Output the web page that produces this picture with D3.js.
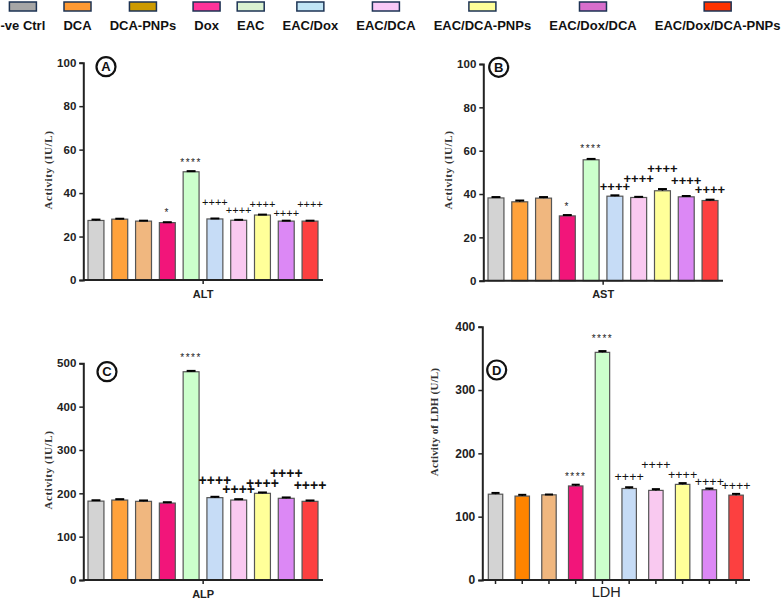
<!DOCTYPE html>
<html lang="en">
<head>
    <meta charset="UTF-8">
    <title>Serum enzymes</title>
    <script src="https://cdn.jsdelivr.net/npm/d3@7"></script>
    <style>
        body { margin: 0; background: #fff; }
        svg { display: block; font-family: "Liberation Sans", Arial, sans-serif; }
    </style>
</head>
<body>
    <svg></svg>
    <script>
        const groups = ["-ve Ctrl", "DCA", "DCA-PNPs", "Dox", "EAC", "EAC/Dox", "EAC/DCA", "EAC/DCA-PNPs", "EAC/Dox/DCA", "EAC/Dox/DCA-PNPs"];
        const legendColors = ["#a6a6a6", "#ff9a33", "#cc9a00", "#ff3399", "#daf2d0", "#c1e5f5", "#f9c9f7", "#ffff99", "#d86ecc", "#ff3300"];
        const barColors = ["#d3d3d3", "#ffa23c", "#f0b77f", "#f2157a", "#ccffcc", "#c6dcf6", "#f9c9f0", "#ffff99", "#dc88f5", "#fc4040"];

        const altValues = [27.4, 28.0, 27.1, 26.4, 49.8, 28.1, 27.5, 29.9, 27.1, 27.1];
        const altErr = [0.4, 0.2, 0.2, 0.2, 0.3, 0.2, 0.2, 0.2, 0.2, 0.2];
        const altMarks = ["", "", "", "*", "****", "++++", "++++", "++++", "++++", "++++"];
        const altMarkAt = [0, 0, 0, 31.9, 55.3, 35.6, 32.3, 35.0, 30.9, 34.7];

        const astValues = [38.2, 36.4, 38.1, 29.9, 55.8, 39.0, 38.4, 41.5, 38.7, 37.0];
        const astErr = [0.4, 0.6, 0.5, 0.4, 0.4, 0.4, 0.3, 0.8, 0.4, 0.4];
        const astMarks = ["", "", "", "*", "****", "++++", "++++", "++++", "++++", "++++"];
        const astMarkAt = [0, 0, 0, 35.4, 61.8, 43.4, 47.1, 51.7, 46.1, 41.9];

        const alpValues = [182, 184.5, 181.5, 177.5, 480.5, 190, 184.5, 200, 188.5, 181.5];
        const alpErr = [2, 2, 2, 2, 2, 2, 2, 2, 2, 2];
        const alpMarks = ["", "", "", "", "****", "++++", "++++", "++++", "++++", "++++"];
        const alpMarkAt = [0, 0, 0, 0, 519, 230.8, 209.3, 223.2, 246.2, 217.6];

        const ldhValues = [135.5, 132.5, 134.5, 148.5, 359.5, 144.5, 141.5, 151, 142.5, 134];
        const ldhErr = [2, 2, 0.5, 2, 2, 2, 2, 2, 2, 2];
        const ldhMarks = ["", "", "", "****", "****", "++++", "++++", "++++", "++++", "++++"];
        const ldhMarkAt = [0, 0, 0, 167.4, 384.2, 163.1, 181.6, 165.8, 155.2, 148.4];

        const W = 784, H = 601;
        const svg = d3.select("svg").attr("width", W).attr("height", H);
        svg.append("rect").attr("width", W).attr("height", H).attr("fill", "#fff");

        // legend strip across the top, labels spread to fill the width
        const leg = svg.append("g");
        const labels = leg.selectAll("text").data(groups).enter().append("text")
            .attr("y", 29.5)
            .attr("text-anchor", "middle")
            .style("font-size", "13px")
            .style("font-weight", "bold")
            .attr("fill", "#111")
            .text(d => d);
        const widths = labels.nodes().map(n => n.getComputedTextLength());
        const gap = (780 - d3.sum(widths)) / (groups.length - 1);
        let cursor = 0.5;
        const centers = widths.map(w => { const c = cursor + w / 2; cursor += w + gap; return c; });
        labels.attr("x", (d, i) => centers[i]);
        leg.selectAll("rect").data(groups).enter().append("rect")
            .attr("x", (d, i) => centers[i] - 13.5)
            .attr("y", 2)
            .attr("width", 27)
            .attr("height", 9)
            .attr("fill", (d, i) => legendColors[i])
            .attr("stroke", "#1d3354")
            .attr("stroke-width", 1.5);

        const panels = [
            { tag: "A", values: altValues, err: altErr, marks: altMarks, markAt: altMarkAt, yMax: 100, step: 20,
              x0: 83.3, x1: 323, bars: [88, 318], pad: 0.33, top: 62.7, bottom: 280,
              ylab: "Activity  (IU/L)", ylabX: 52, ylabY: 170, xlab: "ALT", xlabY: 297.5, xlabSize: 11, xlabBold: true,
              badge: [106, 66.7], plus: { size: 11, weight: "normal" }, allTicks: false, dca: barColors[1] },
            { tag: "B", values: astValues, err: astErr, marks: astMarks, markAt: astMarkAt, yMax: 100, step: 20,
              x0: 483.3, x1: 723, bars: [488, 718], pad: 0.33, top: 64, bottom: 280.7,
              ylab: "Activity  (IU/L)", ylabX: 452, ylabY: 170, xlab: "AST", xlabY: 297.5, xlabSize: 11, xlabBold: true,
              badge: [498.7, 67.3], plus: { size: 13, weight: "bold" }, allTicks: false, dca: barColors[1] },
            { tag: "C", values: alpValues, err: alpErr, marks: alpMarks, markAt: alpMarkAt, yMax: 500, step: 100,
              x0: 83.3, x1: 323, bars: [88, 318], pad: 0.33, top: 363.3, bottom: 580,
              ylab: "Activity  (IU/L)", ylabX: 52, ylabY: 470, xlab: "ALP", xlabY: 597.5, xlabSize: 11, xlabBold: true,
              badge: [107, 371.7], plus: { size: 14, weight: "bold" }, allTicks: false, dca: barColors[1] },
            { tag: "D", values: ldhValues, err: ldhErr, marks: ldhMarks, markAt: ldhMarkAt, yMax: 400, step: 100,
              x0: 482.3, x1: 750, bars: [488.3, 743.3], pad: 0.46, top: 326.7, bottom: 580,
              ylab: "Activity of LDH  (U/L)", ylabX: 438, ylabY: 422, xlab: "LDH", xlabY: 596.5, xlabSize: 14.5, xlabBold: false,
              badge: [496.7, 370], plus: { size: 12.5, weight: "normal" }, allTicks: true, dca: "#ff8400" }
        ];

        panels.forEach(p => {
            const g = svg.append("g");
            const x = d3.scaleBand().domain(groups).range(p.bars).paddingInner(p.pad).paddingOuter(0);
            const y = d3.scaleLinear().domain([0, p.yMax]).range([p.bottom, p.top]);
            const colors = barColors.map((c, i) => i === 1 ? p.dca : c);

            // bars
            g.selectAll("rect.bar").data(groups).enter().append("rect")
                .attr("class", "bar")
                .attr("x", d => x(d))
                .attr("width", x.bandwidth())
                .attr("y", (d, i) => y(p.values[i]))
                .attr("height", (d, i) => p.bottom - y(p.values[i]))
                .attr("fill", (d, i) => colors[i])
                .attr("stroke", "#555")
                .attr("stroke-width", 1.2);

            // error bars (upper half + cap)
            const eb = g.selectAll("g.err").data(groups).enter().append("g").attr("class", "err");
            eb.append("line")
                .attr("x1", d => x(d) + x.bandwidth() / 2)
                .attr("x2", d => x(d) + x.bandwidth() / 2)
                .attr("y1", (d, i) => y(p.values[i]))
                .attr("y2", (d, i) => y(p.values[i] + p.err[i]))
                .attr("stroke", "#000").attr("stroke-width", 1.5);
            eb.append("line")
                .attr("x1", d => x(d) + x.bandwidth() * 0.22)
                .attr("x2", d => x(d) + x.bandwidth() * 0.78)
                .attr("y1", (d, i) => y(p.values[i] + p.err[i]))
                .attr("y2", (d, i) => y(p.values[i] + p.err[i]))
                .attr("stroke", "#000").attr("stroke-width", 2);

            // y axis
            const yAxis = d3.axisLeft(y).tickValues(d3.range(0, p.yMax + 1, p.step)).tickSize(4).tickPadding(3);
            const ya = g.append("g").attr("transform", `translate(${p.x0},0)`).call(yAxis);
            ya.select(".domain").attr("stroke", "#222").attr("stroke-width", 2);
            ya.selectAll(".tick line").attr("stroke", "#222").attr("stroke-width", 1.5);
            ya.selectAll(".tick text")
                .style("font-size", p.tag === "D" ? "12px" : "11.5px")
                .style("font-weight", "bold")
                .style("font-family", "'Liberation Sans', Arial, sans-serif")
                .attr("fill", "#222");

            // x axis line and ticks
            g.append("line")
                .attr("x1", p.x0).attr("x2", p.x1)
                .attr("y1", p.bottom).attr("y2", p.bottom)
                .attr("stroke", "#222").attr("stroke-width", 2);
            const tickXs = p.allTicks ? groups.map(d => x(d) + x.bandwidth() / 2) : [(p.x0 + p.x1) / 2];
            g.selectAll("line.xt").data(tickXs).enter().append("line")
                .attr("class", "xt")
                .attr("x1", d => d).attr("x2", d => d)
                .attr("y1", p.bottom).attr("y2", p.bottom + 4)
                .attr("stroke", "#222").attr("stroke-width", 1.5);

            g.append("text")
                .attr("x", (p.x0 + p.x1) / 2 + (p.tag === "D" ? -10 : 0))
                .attr("y", p.xlabY)
                .attr("text-anchor", "middle")
                .style("font-size", p.xlabSize + "px")
                .style("font-weight", p.xlabBold ? "bold" : "normal")
                .attr("fill", "#222")
                .text(p.xlab);

            // y label
            g.append("text")
                .attr("transform", `translate(${p.ylabX},${p.ylabY}) rotate(-90)`)
                .attr("text-anchor", "middle")
                .style("font-family", "'Liberation Serif', 'Times New Roman', serif")
                .style("font-size", "11px")
                .style("font-weight", "bold")
                .style("letter-spacing", p.tag === "D" ? "0.2px" : "0.6px")
                .attr("fill", "#333")
                .text(p.ylab);

            // significance marks
            g.selectAll("text.mark").data(groups).enter()
                .filter((d, i) => p.marks[i] !== "")
                .append("text")
                .attr("class", "mark")
                .attr("x", d => x(d) + x.bandwidth() / 2)
                .attr("text-anchor", "middle")
                .each(function (d) {
                    const i = groups.indexOf(d);
                    const m = p.marks[i];
                    const t = d3.select(this);
                    if (m[0] === "*") {
                        t.attr("y", y(p.markAt[i]) + 10 * 0.57)
                            .style("font-size", "10px")
                            .style("letter-spacing", "1.5px")
                            .attr("fill", "#222");
                    } else {
                        t.attr("y", y(p.markAt[i]) + p.plus.size * 0.34)
                            .style("font-size", p.plus.size + "px")
                            .style("font-weight", p.plus.weight)
                            .attr("fill", "#111");
                    }
                    t.text(m);
                });

            // panel badge
            const b = g.append("g").attr("transform", `translate(${p.badge[0]},${p.badge[1]})`);
            b.append("circle").attr("r", 9.5).attr("fill", "#fff").attr("stroke", "#111").attr("stroke-width", 2.2);
            b.append("text").attr("text-anchor", "middle").attr("y", 4.6)
                .style("font-size", "13px").style("font-weight", "bold").attr("fill", "#111")
                .text(p.tag);
        });
    </script>
</body>
</html>
